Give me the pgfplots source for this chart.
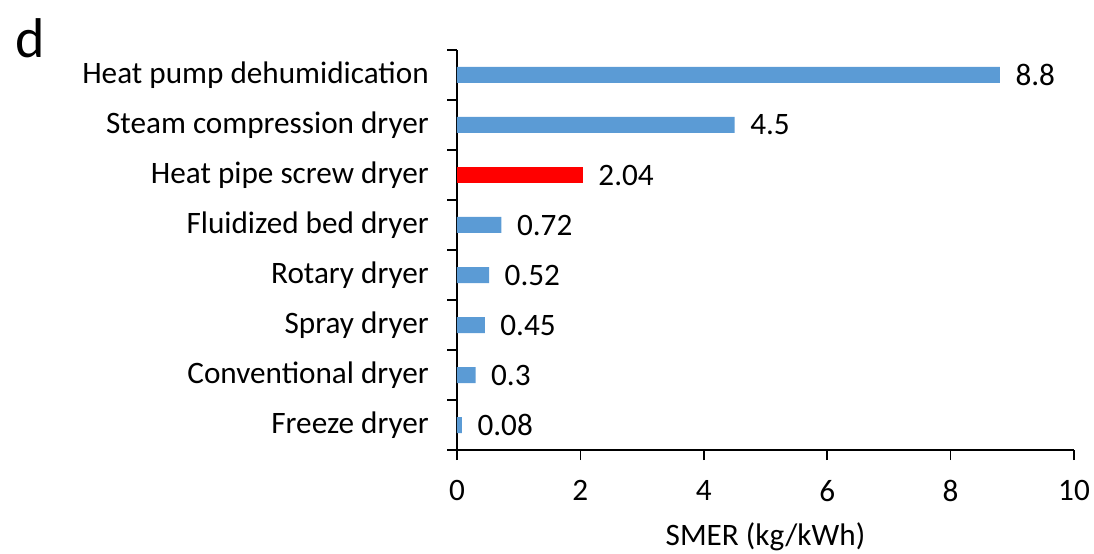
\documentclass[border=0pt]{standalone}
\usepackage{pgfplots}
\pgfplotsset{compat=1.18}
\usepackage{fontspec}
\setmainfont{Carlito}
\definecolor{barblue}{HTML}{5B9BD5}
\definecolor{barred}{HTML}{FF0000}
\newcommand{\lblfont}{\fontsize{23.4pt}{28pt}\selectfont}
\begin{document}
\begin{tikzpicture}
\path[use as bounding box] (-342.75pt,-77.25pt) rectangle (477.75pt,337.5pt);
\begin{axis}[
  at={(0,0)}, anchor=south west,
  scale only axis, width=462.75pt, height=300pt,
  xmin=0, xmax=10, ymin=-0.5, ymax=7.5,
  axis lines*=left,
  axis line style={black, line width=1.2pt},
  xtick={0,2,...,10},
  ytick={0,...,7},
  yticklabels={Freeze dryer, Conventional dryer, Spray dryer, Rotary dryer,
    Fluidized bed dryer, Heat pipe screw dryer, Steam compression dryer,
    Heat pump dehumidication},
  minor ytick={-0.5,0.5,...,7.5},
  tick align=outside,
  major tick length=7.5pt, minor tick length=7.5pt,
  major y tick style={draw=none},
  tick style={black, line width=1.2pt},
  /pgf/number format/assume math mode=true,
  tick label style={font=\lblfont},
  yticklabel style={anchor=east, inner sep=0pt, xshift=-13.5pt},
  xticklabel style={anchor=north, inner sep=0pt, yshift=-15pt},
  xlabel={SMER (kg/kWh)},
  xlabel style={font=\lblfont, at={(rel axis cs:0.5,0)}, anchor=center, yshift=-65pt},
  nodes near coords,
  point meta=explicit symbolic,
  nodes near coords style={font=\lblfont, anchor=west, inner sep=0pt, xshift=11.5pt},
  clip=false,
]
\addplot[xbar, bar shift=0pt, bar width=12pt, fill=barblue, draw=none]
  coordinates {(0.08,0) [0.08] (0.3,1) [0.3] (0.45,2) [0.45] (0.52,3) [0.52]
               (0.72,4) [0.72] (4.5,6) [4.5] (8.8,7) [8.8]};
\addplot[xbar, bar shift=0pt, bar width=12pt, fill=barred, draw=none]
  coordinates {(2.04,5) [2.04]};
\end{axis}
\node[font=\fontsize{42pt}{48pt}\selectfont, anchor=center] at (-320pt,309pt) {d};
\end{tikzpicture}
\end{document}
